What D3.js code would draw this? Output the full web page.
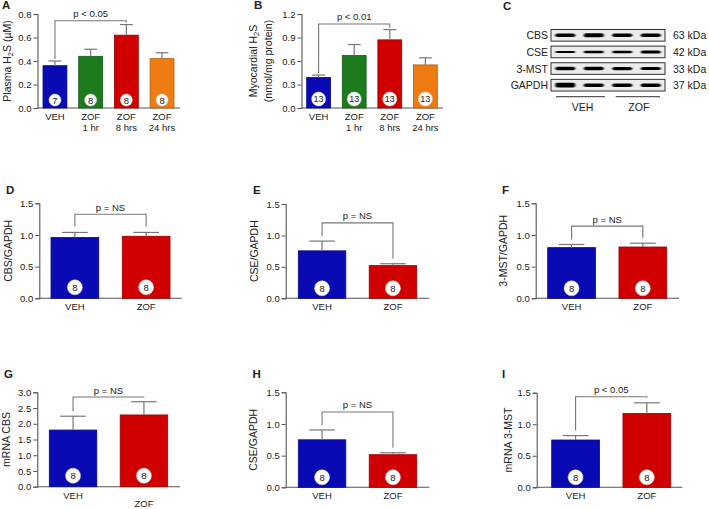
<!DOCTYPE html>
<html><head><meta charset="utf-8">
<script src="https://cdn.jsdelivr.net/npm/d3@7/dist/d3.min.js"></script>
<style>
html,body{margin:0;padding:0;background:#fff;}
svg{display:block;}
text{font-family:"Liberation Sans",Arial,Helvetica,sans-serif;fill:#222;}
</style></head>
<body>
<svg id="fig" width="709" height="509"></svg>
<script>
// ---------- DATA ----------
const timeGroups = ["VEH", "ZOF 1 hr", "ZOF 8 hrs", "ZOF 24 hrs"];
const timeLabelLines = [["VEH"], ["ZOF", "1 hr"], ["ZOF", "8 hrs"], ["ZOF", "24 hrs"]];
const twoGroups = ["VEH", "ZOF"];

const plasmaH2S = [0.36, 0.44, 0.62, 0.42];
const plasmaH2SErr = [0.04, 0.06, 0.09, 0.05];
const plasmaN = [7, 8, 8, 8];

const myoH2S = [0.39, 0.67, 0.87, 0.55];
const myoH2SErr = [0.03, 0.14, 0.13, 0.09];
const myoN = [13, 13, 13, 13];

const cbsProtein = [0.96, 0.98];
const cbsProteinErr = [0.08, 0.06];
const cseProtein = [0.755, 0.52];
const cseProteinErr = [0.155, 0.03];
const mstProtein = [0.80, 0.81];
const mstProteinErr = [0.05, 0.06];
const cbsMrna = [1.80, 2.28];
const cbsMrnaErr = [0.44, 0.42];
const cseH = [0.75, 0.515];
const cseHErr = [0.155, 0.03];
const mstMrna = [0.75, 1.17];
const mstMrnaErr = [0.07, 0.17];
const twoN = [8, 8];

const ticksA = [0, 0.2, 0.4, 0.6, 0.8];
const ticksB = [0, 0.3, 0.6, 0.9, 1.2];
const ticks15 = [0, 0.5, 1.0, 1.5];
const ticks30 = [0, 0.5, 1.0, 1.5, 2.0, 2.5, 3.0];

const blotProteins = ["CBS", "CSE", "3-MST", "GAPDH"];
const blotKDa = ["63 kDa", "42 kDa", "33 kDa", "37 kDa"];
const blotBands = [[3.4, 4.0, 3.4, 3.4], [2.0, 2.6, 2.4, 3.0], [3.6, 3.4, 3.2, 3.0], [4.8, 3.4, 3.4, 3.6]];
const blotGroups = ["VEH", "ZOF"];

// ---------- STYLE ----------
const COL = {blue: "#0a0ab4", green: "#1d7a1d", red: "#d00000", orange: "#ef7c12"};
const timeColors = [COL.blue, COL.green, COL.red, COL.orange];
const twoColors = [COL.blue, COL.red];
const fmt1 = d3.format(".1f");

const svg = d3.select("#fig");

function panel(cfg) {
  const g = svg.append("g");
  const y = d3.scaleLinear().domain([0, cfg.yMax]).range([cfg.y0, cfg.yTop]);
  const x = d3.scaleBand().domain(cfg.groups).range(cfg.barRange).paddingInner(cfg.pad).paddingOuter(0);
  const bw = x.bandwidth();
  const cx = i => x(cfg.groups[i]) + bw / 2;

  const ax = g.append("g").attr("transform", `translate(${cfg.axisX},0)`)
    .call(d3.axisLeft(y).tickValues(cfg.ticks).tickFormat(fmt1).tickSize(4).tickPadding(2));
  ax.select(".domain").attr("stroke", "#555").attr("stroke-width", 1.1);
  ax.selectAll(".tick line").attr("stroke", "#555");
  ax.selectAll(".tick text").attr("font-size", 9.5).attr("fill", "#333")
    .style("font-family", '"Liberation Sans",Arial,sans-serif');
  g.append("line").attr("x1", cfg.axisX).attr("x2", cfg.xEnd).attr("y1", cfg.y0).attr("y2", cfg.y0)
    .attr("stroke", "#555").attr("stroke-width", 1.1);

  cfg.values.forEach((v, i) => {
    g.append("rect").attr("x", x(cfg.groups[i])).attr("y", y(v)).attr("width", bw).attr("height", cfg.y0 - y(v))
      .attr("fill", cfg.colors[i]).attr("stroke", d3.color(cfg.colors[i]).darker(0.8)).attr("stroke-width", 0.8);
    const top = y(v + cfg.errs[i]);
    const cw = bw * 0.27;
    g.append("line").attr("x1", cx(i)).attr("x2", cx(i)).attr("y1", y(v)).attr("y2", top).attr("stroke", "#777").attr("stroke-width", 1.2);
    g.append("line").attr("x1", cx(i) - cw).attr("x2", cx(i) + cw).attr("y1", top).attr("y2", top).attr("stroke", "#777").attr("stroke-width", 1.2);
    g.append("circle").attr("cx", cx(i)).attr("cy", cfg.y0 - cfg.circOff).attr("r", cfg.circR).attr("fill", "#fff")
      .attr("stroke", "#ddd").attr("stroke-width", 0.5);
    g.append("text").attr("x", cx(i)).attr("y", cfg.y0 - cfg.circOff).attr("text-anchor", "middle")
      .attr("dominant-baseline", "central").attr("font-size", cfg.nFont || 9.5).text(cfg.n[i]);
    cfg.labelLines[i].forEach((ln, k) => {
      g.append("text").attr("x", cx(i)).attr("y", cfg.y0 + 12 + k * 11 + (cfg.labelDy ? cfg.labelDy[i] : 0))
        .attr("text-anchor", "middle").attr("font-size", 9.5).text(ln);
    });
  });

  const [a, b] = cfg.bracket;
  const by = y(cfg.bracketLevel);
  const la = y(cfg.values[a] + cfg.errs[a]) - cfg.gap;
  const lb = y(cfg.values[b] + cfg.errs[b]) - cfg.gap;
  g.append("path").attr("d", `M${cx(a)},${la}V${by}H${cx(b)}V${lb}`).attr("fill", "none")
    .attr("stroke", "#777").attr("stroke-width", 1.1);
  g.append("text").attr("x", (cx(a) + cx(b)) / 2).attr("y", by - 3.5).attr("text-anchor", "middle")
    .attr("font-size", 9.5).text(cfg.pText);

  const yl = g.append("text").attr("transform", `translate(${cfg.ylabX},${(cfg.y0 + cfg.yTop) / 2}) rotate(-90)`)
    .attr("text-anchor", "middle").attr("dominant-baseline", "central").attr("font-size", 10.5);
  cfg.ylab(yl);

  svg.append("text").attr("x", cfg.letter[1]).attr("y", cfg.letter[2]).attr("font-size", 11.5)
    .attr("font-weight", "bold").text(cfg.letter[0]);
}

function simpleLab(t) { return sel => sel.text(t); }

panel({groups: timeGroups, labelLines: timeLabelLines, values: plasmaH2S, errs: plasmaH2SErr, n: plasmaN,
  colors: timeColors, yMax: 0.8, ticks: ticksA, y0: 108, yTop: 14, axisX: 37.5, xEnd: 180, barRange: [43, 174], pad: 0.33,
  circOff: 8, circR: 6, bracket: [0, 2], bracketLevel: 0.743, gap: 2, pText: "p < 0.05", ylabX: 7,
  ylab: sel => { sel.append("tspan").text("Plasma H"); sel.append("tspan").attr("dy", 3).attr("font-size", 7.5).text("2");
                 sel.append("tspan").attr("dy", -3).text("S (µM)"); },
  letter: ["A", 2, 8.5]});

panel({groups: timeGroups, labelLines: timeLabelLines, values: myoH2S, errs: myoH2SErr, n: myoN,
  colors: timeColors, yMax: 1.2, ticks: ticksB, y0: 108, yTop: 14, axisX: 301.5, xEnd: 443, barRange: [306.7, 437.3], pad: 0.33,
  circOff: 9, circR: 7, nFont: 9, bracket: [0, 2], bracketLevel: 1.073, gap: 2, pText: "p < 0.01", ylabX: 260,
  ylab: sel => { sel.append("tspan").attr("x", 0).attr("dy", -7.5).text("Myocardial H");
                 sel.append("tspan").attr("dy", 3).attr("font-size", 7.5).text("2");
                 sel.append("tspan").attr("dy", -3).text("S");
                 sel.append("tspan").attr("x", 0).attr("dy", 15).text("(nmol/mg protein)"); },
  letter: ["B", 254, 8.5]});

const twoLines = twoGroups.map(d => [d]);
panel({groups: twoGroups, labelLines: twoLines, values: cbsProtein, errs: cbsProteinErr, n: twoN,
  colors: twoColors, yMax: 1.5, ticks: ticks15, y0: 298.3, yTop: 203.3, axisX: 39.3, xEnd: 181.7, barRange: [51, 170], pad: 0.33,
  circOff: 11, circR: 7.5, bracket: [0, 1], bracketLevel: 1.327, gap: 6, pText: "p = NS", ylabX: 8,
  ylab: simpleLab("CBS/GAPDH"), letter: ["D", 6, 194.3]});

panel({groups: twoGroups, labelLines: twoLines, values: cseProtein, errs: cseProteinErr, n: twoN,
  colors: twoColors, yMax: 1.5, ticks: ticks15, y0: 298.3, yTop: 204, axisX: 285.7, xEnd: 429.3, barRange: [298.3, 416.7], pad: 0.33,
  circOff: 10, circR: 7.5, bracket: [0, 1], bracketLevel: 1.20, gap: 5, pText: "p = NS", ylabX: 254,
  ylab: simpleLab("CSE/GAPDH"), letter: ["E", 253, 194.3]});

panel({groups: twoGroups, labelLines: twoLines, values: mstProtein, errs: mstProteinErr, n: twoN,
  colors: twoColors, yMax: 1.5, ticks: ticks15, y0: 298.3, yTop: 203.3, axisX: 535.7, xEnd: 679, barRange: [547.7, 666.7], pad: 0.33,
  circOff: 10, circR: 7.5, bracket: [0, 1], bracketLevel: 1.14, gap: 5, pText: "p = NS", ylabX: 503,
  ylab: simpleLab("3-MST/GAPDH"), letter: ["F", 502, 194.3]});

panel({groups: twoGroups, labelLines: twoLines, values: cbsMrna, errs: cbsMrnaErr, n: twoN,
  colors: twoColors, yMax: 3.0, ticks: ticks30, y0: 486.7, yTop: 392.3, axisX: 37.3, xEnd: 180, barRange: [49.3, 167.7], pad: 0.33,
  circOff: 11, circR: 7.5, bracket: [0, 1], bracketLevel: 2.85, gap: 5, pText: "p = NS", ylabX: 6,
  labelDy: [0, 8],
  ylab: simpleLab("mRNA CBS"), letter: ["G", 4, 378.3]});

panel({groups: twoGroups, labelLines: twoLines, values: cseH, errs: cseHErr, n: twoN,
  colors: twoColors, yMax: 1.5, ticks: ticks15, y0: 487.3, yTop: 392.3, axisX: 285.7, xEnd: 429.3, barRange: [298.3, 416.7], pad: 0.33,
  circOff: 10, circR: 7.5, bracket: [0, 1], bracketLevel: 1.19, gap: 5, pText: "p = NS", ylabX: 253,
  ylab: simpleLab("CSE/GAPDH"), letter: ["H", 252.5, 378.3]});

panel({groups: twoGroups, labelLines: twoLines, values: mstMrna, errs: mstMrnaErr, n: twoN,
  colors: twoColors, yMax: 1.5, ticks: ticks15, y0: 487.3, yTop: 392.7, axisX: 536.7, xEnd: 682.3, barRange: [551.7, 670.7], pad: 0.33,
  circOff: 10, circR: 7.5, bracket: [0, 1], bracketLevel: 1.435, gap: 5, pText: "p < 0.05", ylabX: 508,
  ylab: simpleLab("mRNA 3-MST"), letter: ["I", 502, 378.3]});

// ---------- Western blot (C) ----------
svg.append("text").attr("x", 503).attr("y", 9.5).attr("font-size", 11.5).attr("font-weight", "bold").text("C");
const defs = svg.append("defs");
defs.append("filter").attr("id", "blur").attr("x", "-20%").attr("y", "-100%").attr("width", "140%").attr("height", "300%")
  .append("feGaussianBlur").attr("stdDeviation", "1.0 0.7");
const rowY = d3.scaleBand().domain(blotProteins).range([29.5, 91]).paddingInner(0.3);
const laneX = d3.scaleBand().domain(d3.range(4)).range([551, 665]).paddingInner(0.3).paddingOuter(0.15);
const blot = svg.append("g");
blotProteins.forEach((p, r) => {
  const y0 = rowY(p), h = rowY.bandwidth();
  blot.append("rect").attr("x", 551).attr("y", y0).attr("width", 114).attr("height", h)
    .attr("fill", "#ececec").attr("stroke", "#333").attr("stroke-width", 1);
  blotBands[r].forEach((t, l) => {
    blot.append("rect").attr("x", laneX(l)).attr("y", y0 + h / 2 - t / 2).attr("width", laneX.bandwidth())
      .attr("height", t).attr("rx", 2).attr("fill", "#000").attr("filter", "url(#blur)");
  });
  blot.append("text").attr("x", 548).attr("y", y0 + h / 2).attr("text-anchor", "end").attr("dominant-baseline", "central")
    .attr("font-size", 10.5).text(p);
  blot.append("text").attr("x", 673).attr("y", y0 + h / 2).attr("dominant-baseline", "central")
    .attr("font-size", 10.5).text(blotKDa[r]);
});
const grpLines = [[556, 605], [615.7, 660]];
blotGroups.forEach((gname, i) => {
  blot.append("line").attr("x1", grpLines[i][0]).attr("x2", grpLines[i][1]).attr("y1", 96.7).attr("y2", 96.7)
    .attr("stroke", "#333").attr("stroke-width", 1);
  blot.append("text").attr("x", (grpLines[i][0] + grpLines[i][1]) / 2 + (i === 0 ? 2 : 1)).attr("y", 107)
    .attr("text-anchor", "middle").attr("dominant-baseline", "central").attr("font-size", 10.5).text(gname);
});
</script>
</body></html>
